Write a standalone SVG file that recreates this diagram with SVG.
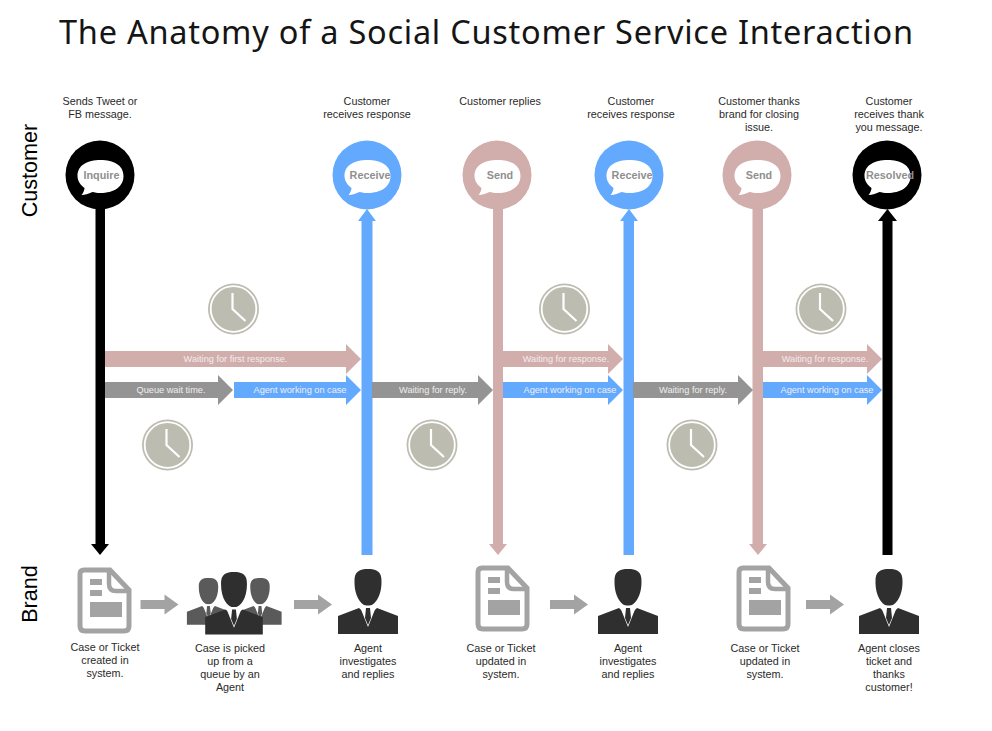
<svg xmlns="http://www.w3.org/2000/svg" width="992" height="731" viewBox="0 0 992 731">
<style>
text{font-family:"Liberation Sans",Arial,sans-serif}
.cap{font-size:10.8px;fill:#2a2a2a;text-anchor:middle}
.lane{font-size:21.6px;fill:#000;text-anchor:middle}
.bub{font-size:10.8px;font-weight:bold;fill:#8f8f8f;text-anchor:middle}
.lab{font-size:9.2px;fill:#f1eeee;text-anchor:middle}
.pink{fill:#d1adac}.blue{fill:#63aaff}.gray{fill:#949494}.black{fill:#000}
</style>
<defs>
<g id="bubble"><path d="M-23 1C-23-10-13-15 0-15C13-15 23-10 23 1C23 12 13 18 0 18C-3 18-6 17.500-8 17C-11 18.500-15 20-19 20C-17 17.500-16 15-16 13C-20 10-23 6-23 1Z" fill="#fff"/></g>
<g id="clock"><circle r="25.500" fill="#bdbcb1"/><circle r="22.800" fill="none" stroke="#fff" stroke-width="1.800"/><path d="M-1 -16V0L12 12" fill="none" stroke="#fff" stroke-width="2.200"/></g>
<g id="doc"><path d="M-20 -30H6L25 -10V26Q25 31 20 31H-19Q-24 31 -24 26V-26Q-24 -30 -20 -30Z" fill="#fff" stroke="#a3a3a3" stroke-width="5"/><path d="M5 -30V-16Q5 -9 12 -9H25" fill="none" stroke="#a3a3a3" stroke-width="4.500"/><rect x="-14" y="-21" width="12" height="6" fill="#a3a3a3"/><rect x="-14" y="-10" width="12" height="6" fill="#a3a3a3"/><rect x="-14" y="2" width="32" height="15" fill="#a3a3a3"/></g>
<g id="person"><path d="M-13.500-12C-14-23-8-25 0-25C8-25 14-23 13.500-12C13.500 2 7 12 0 12C-7 12-13.500 2-13.500-12Z"/><path d="M-30 22L-9 14L0 22L9 14L30 22V40H-30Z"/><path d="M-8 13L-3 11.500H3L8 13L0 33Z" fill="#fff"/><path d="M-2 14H2L3 24L0 31L-3 24Z"/></g>
<path id="gr" d="M0-4.500H24V-10L38 0L24 10V4.500H0Z" fill="#a3a3a3"/>
</defs>
<rect width="992" height="731" fill="#fff"/>
<text id="title" x="59" y="44" textLength="854" style="font-family:'Noto Sans','Open Sans',sans-serif;font-size:32.500px;fill:#151515">The Anatomy of a Social Customer Service Interaction</text>
<text class="lane" transform="translate(37 170.500) rotate(-90)">Customer</text>
<text class="lane" transform="translate(37 594) rotate(-90)">Brand</text>
<g id="connectors">
<path class="black" d="M95.500 205H105V544H109L100 555L91 544H95.500Z"/>
<path class="blue" d="M361.500 555V221H358L367 209L376 221H372.500V555Z"/>
<path class="pink" d="M493 205H503V544H507L498 555L489 544H493Z"/>
<path class="blue" d="M623.500 555V221H620L629 209L638 221H634V555Z"/>
<path class="pink" d="M752.500 205H763V544H767L758 555L749 544H752.500Z"/>
<path class="black" d="M882.500 555V221H878L887.500 209L897 221H892.500V555Z"/>
<path class="pink" d="M105 351H346V344L361 359L346 374V367H105Z"/>
<path class="gray" d="M105 382H218V375L233 390L218 405V398H105Z"/>
<path class="blue" d="M234 382H346V375L361 390L346 405V398H234Z"/>
<path class="gray" d="M372 382H478V375L493 390L478 405V398H372Z"/>
<path class="pink" d="M503 351H608V344L623 359L608 374V367H503Z"/>
<path class="blue" d="M503 382H608V375L623 390L608 405V398H503Z"/>
<path class="gray" d="M633 382H738V375L753 390L738 405V398H633Z"/>
<path class="pink" d="M763 351H867V344L882 359L867 374V367H763Z"/>
<path class="blue" d="M763 382H867V375L882 390L867 405V398H763Z"/>
<use href="#gr" x="140.500" y="604.500"/>
<use href="#gr" x="294" y="604.500"/>
<use href="#gr" x="550" y="604.500"/>
<use href="#gr" x="806" y="604.500"/>
</g>
<g id="arrow-labels">
<text class="lab" x="235.500" y="362">Waiting for first response.</text>
<text class="lab" x="171" y="393">Queue wait time.</text>
<text class="lab" x="300" y="393">Agent working on case</text>
<text class="lab" x="433" y="393">Waiting for reply.</text>
<text class="lab" x="566" y="362">Waiting for response.</text>
<text class="lab" x="570" y="393">Agent working on case</text>
<text class="lab" x="693" y="393">Waiting for reply.</text>
<text class="lab" x="825" y="362">Waiting for response.</text>
<text class="lab" x="827" y="393">Agent working on case</text>
</g>
<g id="clocks">
<use href="#clock" x="233.500" y="309"/>
<use href="#clock" x="167.500" y="445"/>
<use href="#clock" x="564.500" y="309"/>
<use href="#clock" x="432" y="445"/>
<use href="#clock" x="821" y="309"/>
<use href="#clock" x="692" y="445"/>
</g>
<g id="inquire"><circle cx="100" cy="175" r="34.500" fill="#000"/><use href="#bubble" x="100.500" y="175"/><text class="bub" x="101.500" y="179">Inquire</text><text class="cap" x="100" y="105">Sends Tweet or</text><text class="cap" x="100" y="118">FB message.</text></g>
<g id="receive1"><circle cx="367" cy="175" r="34.500" fill="#63aaff"/><use href="#bubble" x="367.500" y="175"/><text class="bub" x="370" y="179">Receive</text><text class="cap" x="367" y="105">Customer</text><text class="cap" x="367" y="118">receives response</text></g>
<g id="send1"><circle cx="497" cy="175" r="34.500" fill="#d1adac"/><use href="#bubble" x="497.500" y="175"/><text class="bub" x="500" y="179">Send</text><text class="cap" x="500" y="105">Customer replies</text></g>
<g id="receive2"><circle cx="629" cy="175" r="34.500" fill="#63aaff"/><use href="#bubble" x="629.500" y="175"/><text class="bub" x="632" y="179">Receive</text><text class="cap" x="631" y="105">Customer</text><text class="cap" x="631" y="118">receives response</text></g>
<g id="send2"><circle cx="757" cy="175" r="34.500" fill="#d1adac"/><use href="#bubble" x="757.500" y="175"/><text class="bub" x="759" y="179">Send</text><text class="cap" x="759" y="105">Customer thanks</text><text class="cap" x="759" y="118">brand for closing</text><text class="cap" x="759" y="131">issue.</text></g>
<g id="resolved"><circle cx="887" cy="175" r="34.500" fill="#000"/><use href="#bubble" x="887.500" y="175"/><text class="bub" x="890" y="179">Resolved</text><text class="cap" x="889" y="105">Customer</text><text class="cap" x="889" y="118">receives thank</text><text class="cap" x="889" y="131">you message.</text></g>
<g id="ticket1"><use href="#doc" x="104" y="600"/><text class="cap" x="105" y="651">Case or Ticket</text><text class="cap" x="105" y="664">created in</text><text class="cap" x="105" y="677">system.</text></g>
<g id="queue"><g fill="#5a5a5a"><use href="#person" transform="translate(208.500 596) scale(.72)"/><use href="#person" transform="translate(260 596) scale(.72)"/></g><use href="#person" fill="#2f2f2f" transform="translate(234 596) scale(.96)"/><text class="cap" x="230" y="652">Case is picked</text><text class="cap" x="230" y="665">up from a</text><text class="cap" x="230" y="678">queue by an</text><text class="cap" x="230" y="691">Agent</text></g>
<g id="agent1" fill="#2f2f2f"><use href="#person" x="368" y="594"/><text class="cap" x="368" y="652">Agent</text><text class="cap" x="368" y="665">investigates</text><text class="cap" x="368" y="678">and replies</text></g>
<g id="ticket2"><use href="#doc" x="502" y="598"/><text class="cap" x="501" y="652">Case or Ticket</text><text class="cap" x="501" y="665">updated in</text><text class="cap" x="501" y="678">system.</text></g>
<g id="agent2" fill="#2f2f2f"><use href="#person" x="628" y="594"/><text class="cap" x="628" y="652">Agent</text><text class="cap" x="628" y="665">investigates</text><text class="cap" x="628" y="678">and replies</text></g>
<g id="ticket3"><use href="#doc" x="763" y="598"/><text class="cap" x="765" y="652">Case or Ticket</text><text class="cap" x="765" y="665">updated in</text><text class="cap" x="765" y="678">system.</text></g>
<g id="agent3" fill="#2f2f2f"><use href="#person" x="889" y="594"/><text class="cap" x="889" y="652">Agent closes</text><text class="cap" x="889" y="665">ticket and</text><text class="cap" x="889" y="678">thanks</text><text class="cap" x="889" y="691">customer!</text></g>
</svg>
